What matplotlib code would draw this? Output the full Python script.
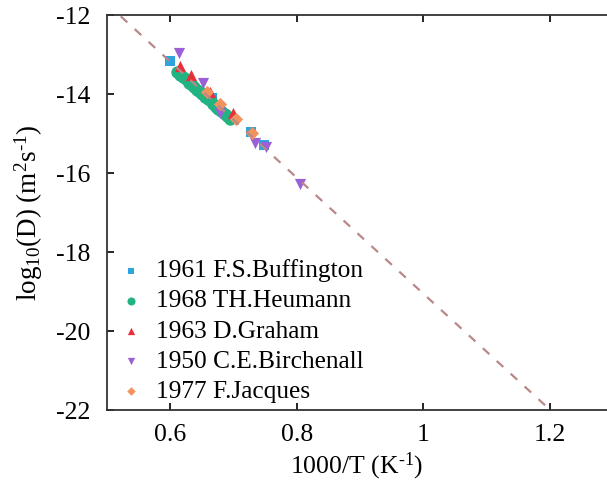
import numpy as np
import matplotlib
matplotlib.use("Agg")
import matplotlib.pyplot as plt

plt.rcParams['font.family'] = ['Liberation Serif', 'DejaVu Serif']
plt.rcParams['mathtext.fontset'] = 'custom'
plt.rcParams['mathtext.rm'] = 'Liberation Serif'
plt.rcParams['mathtext.it'] = 'Liberation Serif:italic'

# data (x = 1000/T, y = log10 D)
buff_x = [0.600, 0.631, 0.666, 0.727, 0.748]
buff_y = [-13.16, -13.72, -14.08, -14.96, -15.29]

heum_x = [0.611, 0.615, 0.620, 0.625, 0.630, 0.634, 0.638, 0.643, 0.647, 0.651,
          0.655, 0.660, 0.664, 0.668, 0.672, 0.676, 0.681, 0.686, 0.690, 0.694]
heum_y = [-13.44, -13.50, -13.55, -13.62, -13.70, -13.76, -13.82, -13.88, -13.93, -14.00,
          -14.06, -14.12, -14.18, -14.25, -14.31, -14.37, -14.43, -14.50, -14.56, -14.62]

grah_x = [0.615, 0.633, 0.663, 0.699]
grah_y = [-13.27, -13.52, -13.95, -14.46]

birc_x = [0.614, 0.652, 0.678, 0.734, 0.751, 0.805]
birc_y = [-12.96, -13.72, -14.46, -15.24, -15.34, -16.28]

jacq_x = [0.658, 0.678, 0.704, 0.729]
jacq_y = [-13.95, -14.25, -14.63, -14.99]

# fitted Arrhenius line: log10 D = fit_a + fit_b * (1000/T)
fit_a = -4.35
fit_b = -14.70
fit_x = [0.50, 1.29]

series = [
    (buff_x, buff_y, 's', '#2ea3dc', 55, '1961 F.S.Buffington'),
    (heum_x, heum_y, 'o', '#22b383', 80, '1968 TH.Heumann'),
    (grah_x, grah_y, '^', '#e8303a', 65, '1963 D.Graham'),
    (birc_x, birc_y, 'v', '#9b5fd6', 65, '1950 C.E.Birchenall'),
    (jacq_x, jacq_y, 'D', '#f2925c', 45, '1977 F.Jacques'),
]

fig = plt.figure(figsize=(6.07, 4.82), dpi=100)
ax = fig.add_axes([0.176, 0.149, 0.824, 0.819])

for xs, ys, mk, col, size, lab in series:
    ax.scatter(xs, ys, marker=mk, s=size, color=col, label=lab,
               linewidths=0, zorder=3)

lx = np.array(fit_x)
ax.plot(lx, fit_a + fit_b * lx, linestyle=(0, (4, 4.5)), color='#b98888',
        linewidth=1.6, zorder=4)

ax.set_xlim(0.5, 1.29)
ax.set_ylim(-22, -12)
ax.set_xticks([0.6, 0.8, 1.0, 1.2])
ax.set_xticklabels(['0.6', '0.8', '1', '1.2'])
ax.set_yticks([-12, -14, -16, -18, -20, -22])
ax.set_yticklabels(['-12', '-14', '-16', '-18', '-20', '-22'])
ax.tick_params(direction='in', top=True, right=False, length=5, width=1.2,
               labelsize=18.5, pad=10)
ax.tick_params(axis='y', pad=12)
for s in ['left', 'bottom', 'top']:
    ax.spines[s].set_linewidth(1.3)
    ax.spines[s].set_color('#333333')
ax.spines['right'].set_visible(False)

ax.set_xlabel(r'1000/T (K$^{\text{-1}}$)', fontsize=18.5, labelpad=3)
ax.set_ylabel(r'log$_{10}$(D) (m$^{2}$s$^{\text{-1}}$)', fontsize=19.5, labelpad=8)

ax.legend(loc='lower left', bbox_to_anchor=(-0.022, -0.02), frameon=False,
          fontsize=18.3, handletextpad=0.15, labelspacing=0.29,
          markerscale=0.65, handlelength=1.6, borderaxespad=0.2)

fig.savefig('out.png', dpi=100)
